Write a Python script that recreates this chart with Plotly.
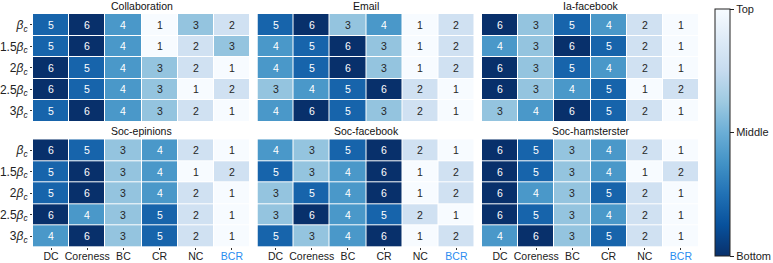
import plotly.graph_objects as go

methods = ["DC", "Coreness", "BC", "CR", "NC", "BCR"]
betas = ["<i>β<sub>c</sub></i>", "1.5<i>β<sub>c</sub></i>", "2<i>β<sub>c</sub></i>",
         "2.5<i>β<sub>c</sub></i>", "3<i>β<sub>c</sub></i>"]

collaboration = [[5, 6, 4, 1, 3, 2],
                 [5, 6, 4, 1, 2, 3],
                 [6, 5, 4, 3, 2, 1],
                 [6, 5, 4, 3, 1, 2],
                 [5, 6, 4, 3, 2, 1]]
email = [[5, 6, 3, 4, 1, 2],
         [4, 5, 6, 3, 1, 2],
         [4, 5, 6, 3, 1, 2],
         [3, 4, 5, 6, 2, 1],
         [4, 6, 5, 3, 2, 1]]
ia_facebook = [[6, 3, 5, 4, 2, 1],
               [4, 3, 6, 5, 2, 1],
               [6, 3, 5, 4, 2, 1],
               [6, 3, 4, 5, 1, 2],
               [3, 4, 6, 5, 2, 1]]
soc_epinions = [[6, 5, 3, 4, 2, 1],
                [5, 6, 3, 4, 1, 2],
                [5, 6, 3, 4, 2, 1],
                [6, 4, 3, 5, 2, 1],
                [4, 6, 3, 5, 2, 1]]
soc_facebook = [[4, 3, 5, 6, 2, 1],
                [5, 3, 4, 6, 1, 2],
                [3, 5, 4, 6, 1, 2],
                [3, 6, 4, 5, 2, 1],
                [5, 3, 4, 6, 1, 2]]
soc_hamsterster = [[6, 5, 3, 4, 2, 1],
                   [6, 5, 3, 4, 1, 2],
                   [6, 4, 3, 5, 2, 1],
                   [6, 5, 3, 4, 2, 1],
                   [4, 6, 3, 5, 2, 1]]

titles = ["Collaboration", "Email", "Ia-facebook", "Soc-epinions", "Soc-facebook", "Soc-hamsterster"]
panels = [collaboration, email, ia_facebook, soc_epinions, soc_facebook, soc_hamsterster]

blues = ["#f7fbff", "#deebf7", "#c6dbef", "#9ecae1", "#6baed6",
         "#4292c6", "#2171b5", "#08519c", "#08306b"]
cs = [[i / 8, c] for i, c in enumerate(reversed(blues))]

W, H = 773, 263
ML, MR, MT, MB = 33, 74, 14, 16
PW, PH = W - ML - MR, H - MT - MB
xdom_px = [(33, 250), (257.5, 474.5), (482, 699)]
ydom_px = [(14, 121.7), (139.3, 247)]
FONT = "Liberation Sans, Arial, sans-serif"


def px_x(p):
    return (p - ML) / PW


def px_y(p):
    return (H - MB - p) / PH


fig = go.Figure()
annotations = []
layout = {}
for k, (title, data) in enumerate(zip(titles, panels)):
    r, c = divmod(k, 3)
    idx = "" if k == 0 else str(k + 1)
    xd = [max(0, px_x(xdom_px[c][0])), min(1, px_x(xdom_px[c][1]))]
    yd = [max(0, px_y(ydom_px[r][1])), min(1, px_y(ydom_px[r][0]))]
    z = [[-v for v in row] for row in data]
    fig.add_trace(go.Heatmap(
        z=z, x=list(range(len(methods))), y=list(range(len(betas))),
        colorscale=cs, zmin=-6, zmax=-1, xgap=1, ygap=1,
        showscale=(k == 0), xaxis="x" + idx, yaxis="y" + idx,
        hoverinfo="skip",
        colorbar=dict(
            x=px_x(715), xanchor="left", xpad=0, thickness=15, thicknessmode="pixels",
            y=px_y((9 + 256) / 2), yanchor="middle", len=256 - 9, lenmode="pixels",
            ypad=0, outlinewidth=1, outlinecolor="#222",
            tickvals=[-1, -3.5, -6], ticktext=["Top", "Middle", "Bottom"],
            ticks="outside", ticklen=4, tickcolor="#222",
            tickfont=dict(family=FONT, size=11, color="#222"),
        ) if k == 0 else None,
    ))
    ticktext = [m if m != "BCR" else "<span style='color:#2a8cf0'>BCR</span>" for m in methods]
    layout["xaxis" + idx] = dict(
        domain=xd, anchor="y" + idx, range=[-0.5, 5.5],
        tickvals=list(range(6)), ticktext=ticktext, showticklabels=(r == 1),
        ticks="outside" if r == 1 else "", ticklen=2, tickcolor="#333",
        ticklabelstandoff=-3,
        tickfont=dict(family=FONT, size=10.5, color="#222"),
        showgrid=False, zeroline=False, showline=False, fixedrange=True, automargin=False)
    layout["yaxis" + idx] = dict(
        domain=yd, anchor="x" + idx, range=[4.5, -0.5],
        tickvals=list(range(5)), ticktext=betas, showticklabels=(c == 0),
        ticks="outside" if c == 0 else "", ticklen=2, tickcolor="#333",
        tickfont=dict(family=FONT, size=12, color="#222"),
        showgrid=False, zeroline=False, showline=False, fixedrange=True, automargin=False)
    annotations.append(dict(
        text=title, x=(xd[0] + xd[1]) / 2, y=yd[1], xref="paper", yref="paper",
        xanchor="center", yanchor="bottom", showarrow=False,
        font=dict(family=FONT, size=10.5, color="#111")))
    for i, row in enumerate(data):
        for j, v in enumerate(row):
            annotations.append(dict(
                text=str(v), x=j, y=i, xref="x" + idx, yref="y" + idx,
                showarrow=False,
                font=dict(family=FONT, size=10.5, color="white" if v >= 4 else "#262626")))

fig.update_layout(
    width=W, height=H, margin=dict(l=ML, r=MR, t=MT, b=MB, autoexpand=False),
    paper_bgcolor="white", plot_bgcolor="white",
    annotations=annotations, **layout)

fig.write_html("out.html", config={"displayModeBar": False},
               post_script="document.body.style.margin='0';document.body.style.overflow='hidden';")
